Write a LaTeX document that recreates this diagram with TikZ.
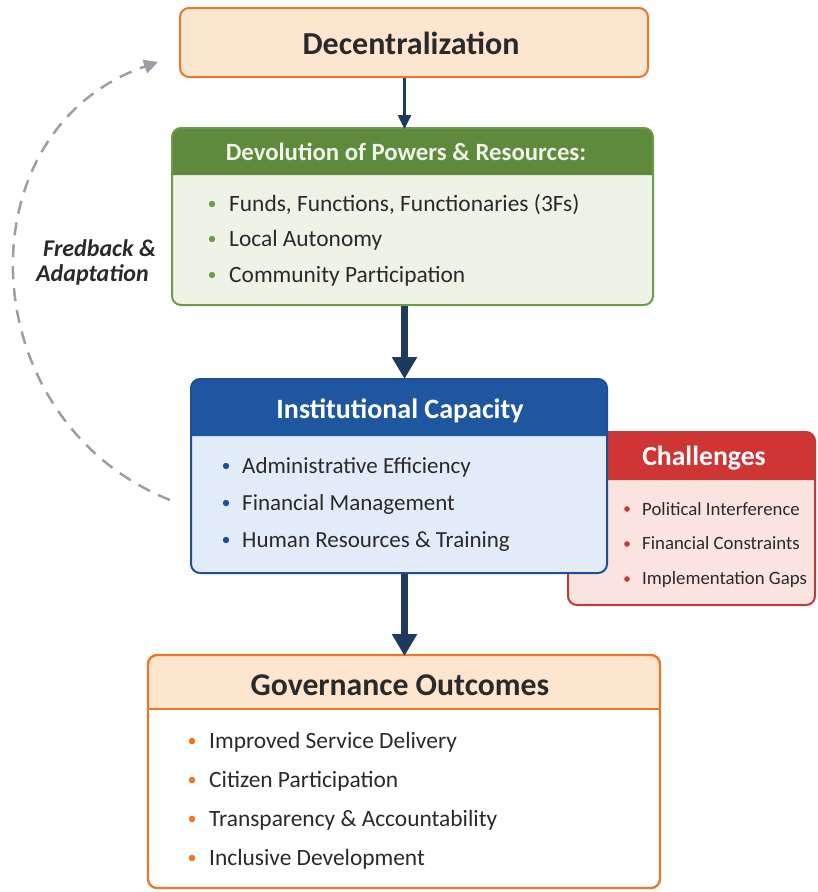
\documentclass[tikz,border=0pt]{standalone}
\usepackage{fontspec}
\setmainfont{Carlito}
\usetikzlibrary{arrows.meta}
\definecolor{orgline}{HTML}{E8782A}
\definecolor{peach}{HTML}{FDE6CF}
\definecolor{grnhead}{HTML}{5F8A3B}
\definecolor{grnline}{HTML}{6E9A4A}
\definecolor{grnbody}{HTML}{EEF3E6}
\definecolor{bluhead}{HTML}{1E56A0}
\definecolor{bluline}{HTML}{1E4F94}
\definecolor{blubody}{HTML}{E2ECF8}
\definecolor{redhead}{HTML}{CF3535}
\definecolor{redline}{HTML}{C0393B}
\definecolor{redbody}{HTML}{FBE3DF}
\definecolor{navy}{HTML}{1E3A5C}
\definecolor{dashgray}{HTML}{9A9FA5}
\definecolor{txt}{HTML}{2A2A2A}
\tikzset{
  boxstyle/.style={rounded corners=9pt, line width=2pt, inner sep=0pt},
  itemtext/.style={anchor=base west, text=txt, inner sep=0pt, font=\fontsize{23.4}{26}\selectfont},
  smallitem/.style={anchor=base west, text=txt, inner sep=0pt, font=\fontsize{18.8}{22}\selectfont},
  headtext/.style={anchor=base, inner sep=0pt},
  thinarrow/.style={draw=navy, line width=2.5pt, -{Triangle[width=13pt,length=14pt]}},
  thickarrow/.style={draw=navy, line width=7pt, -{Triangle[width=24pt,length=22pt]}},
  fbarrow/.style={draw=dashgray, line width=2.5pt, dash pattern=on 13pt off 9pt, -{Triangle[width=14pt,length=14pt]}},
}
\begin{document}
\begin{tikzpicture}[x=1pt,y=-1pt]
\useasboundingbox (0,0) rectangle (817,892);

% ---------- Decentralization ----------
\node[boxstyle, draw=orgline, fill=peach, minimum width=468pt, minimum height=69pt] (dec) at (414,42.5) {};
\node[headtext, font=\bfseries\fontsize{32}{36}\selectfont, text=txt] (dect) at (411,54) {Decentralization};

% ---------- Devolution (green) ----------
\node[boxstyle, fill=grnbody, minimum width=481pt, minimum height=177pt] (dev) at (412.5,216.5) {};
\fill[grnhead] (172,175) {[rounded corners=9pt] -- (172,128) -- (653,128)} -- (653,175) -- cycle;
\draw[grnline, line width=2pt, rounded corners=9pt] (172,128) rectangle (653,305);
\node[headtext, text=white!90!grnhead, font=\bfseries\fontsize{24.8}{28}\selectfont] (devh) at (406,160) {Devolution of Powers \& Resources:};
\foreach \y/\b/\t [count=\i] in {204/211.5/{Funds, Functions, Functionaries (3Fs)}, 239/246.5/{Local Autonomy}, 275/282/{Community Participation}}{
  \fill[grnline] (212,\y) circle (3.2pt);
  \node[itemtext] (devi\i) at (229,\b) {\t};
}

% ---------- Challenges (red) ----------
\node[boxstyle, fill=redbody, minimum width=247pt, minimum height=173pt] (chal) at (691.5,518.5) {};
\fill[redhead] (568,480) {[rounded corners=9pt] -- (568,432) -- (815,432)} -- (815,480) -- cycle;
\draw[redline, line width=2pt, rounded corners=9pt] (568,432) rectangle (815,605);
\node[headtext, text=white, font=\bfseries\fontsize{27.7}{31}\selectfont] (chalh) at (704,465) {Challenges};
\foreach \y/\b/\t [count=\i] in {509/515/{Political Interference}, 544/549/{Financial Constraints}, 579/584/{Implementation Gaps}}{
  \fill[redline] (627,\y) circle (2.8pt);
  \node[smallitem] (chali\i) at (642,\b) {\t};
}

% ---------- Institutional Capacity (blue) ----------
\node[boxstyle, fill=blubody, minimum width=416pt, minimum height=194pt] (inst) at (399,476) {};
\fill[bluhead] (191,436) {[rounded corners=9pt] -- (191,379) -- (607,379)} -- (607,436) -- cycle;
\draw[bluline, line width=2pt, rounded corners=9pt] (191,379) rectangle (607,573);
\node[headtext, text=white, font=\bfseries\fontsize{28}{32}\selectfont] (insth) at (400,418) {Institutional Capacity};
\foreach \y/\b/\t [count=\i] in {466/473/{Administrative Efficiency}, 503/510/{Financial Management}, 540/547/{Human Resources \& Training}}{
  \fill[bluline] (226,\y) circle (3.2pt);
  \node[itemtext, font=\fontsize{23}{26}\selectfont] (insti\i) at (242,\b) {\t};
}

% ---------- Governance Outcomes ----------
\node[boxstyle, fill=white, minimum width=512pt, minimum height=233pt] (gov) at (404,771.5) {};
\fill[peach] (148,709) {[rounded corners=9pt] -- (148,655) -- (660,655)} -- (660,709) -- cycle;
\draw[orgline, line width=2pt] (148,709) -- (660,709);
\draw[orgline, line width=2.4pt, rounded corners=9pt] (148,655) rectangle (660,888);
\node[headtext, text=txt, font=\bfseries\fontsize{31.7}{35}\selectfont] (govh) at (400,695) {Governance Outcomes};
\foreach \y/\b/\t [count=\i] in {741/748/{Improved Service Delivery}, 780/787/{Citizen Participation}, 819/826/{Transparency \& Accountability}, 858/865/{Inclusive Development}}{
  \fill[orgline] (192,\y) circle (3.3pt);
  \node[itemtext] (govi\i) at (209,\b) {\t};
}

% ---------- Arrows ----------
\coordinate (ax) at (404.5,0);
\draw[thinarrow] (dec.south -| ax) -- ([yshift=-2pt]dev.north -| ax);
\draw[thickarrow] (dev.south -| ax) -- ([yshift=-1pt]inst.north -| ax);
\draw[thickarrow] (inst.south -| ax) -- ([yshift=-2pt]gov.north -| ax);

% ---------- Feedback loop ----------
\coordinate (fbs) at (170,500);
\coordinate (fbe) at (158,62);
\draw[fbarrow] (fbs) .. controls (-30,420) and (-40,130) .. (fbe);
\node[font=\bfseries\itshape\fontsize{24}{25}\selectfont, text=txt, align=left, anchor=west, inner sep=0pt] (fbl) at (36,262) {\hspace*{7pt}Fredback \&\\Adaptation};
\end{tikzpicture}
\end{document}
